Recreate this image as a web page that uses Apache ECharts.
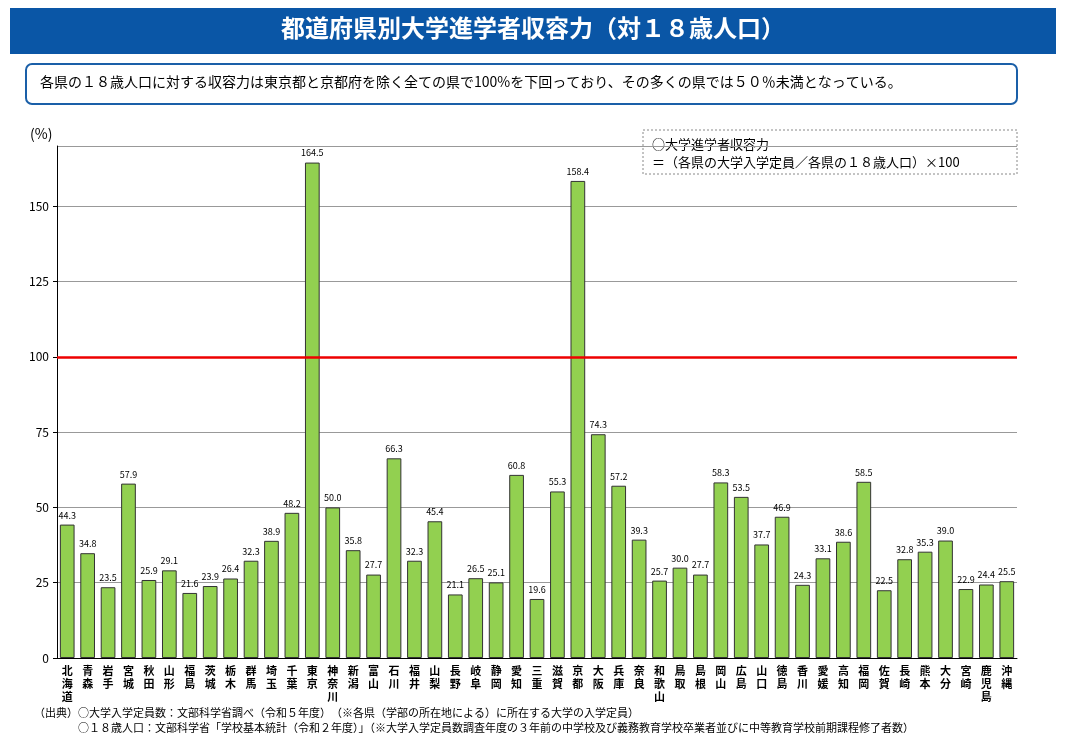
<!DOCTYPE html>
<html lang="ja">
<head>
<meta charset="UTF-8">
<title>都道府県別大学進学者収容力</title>
<script src="https://cdn.jsdelivr.net/npm/echarts@6/dist/echarts.min.js"></script>
<style>
  body { margin: 0; background: #fff; font-family: "Noto Sans CJK JP", sans-serif; }
  #myChart { width: 1066px; height: 737px; }
</style>
</head>
<body>
<div id="myChart"></div>
<script>
var prefectures = ['北海道','青森','岩手','宮城','秋田','山形','福島','茨城','栃木','群馬','埼玉','千葉','東京','神奈川','新潟','富山','石川','福井','山梨','長野','岐阜','静岡','愛知','三重','滋賀','京都','大阪','兵庫','奈良','和歌山','鳥取','島根','岡山','広島','山口','徳島','香川','愛媛','高知','福岡','佐賀','長崎','熊本','大分','宮崎','鹿児島','沖縄'];
var capacity = [44.3,34.8,23.5,57.9,25.9,29.1,21.6,23.9,26.4,32.3,38.9,48.2,164.5,50.0,35.8,27.7,66.3,32.3,45.4,21.1,26.5,25.1,60.8,19.6,55.3,158.4,74.3,57.2,39.3,25.7,30.0,27.7,58.3,53.5,37.7,46.9,24.3,33.1,38.6,58.5,22.5,32.8,35.3,39.0,22.9,24.4,25.5];
var baseline = 100;

var FONT = '"Noto Sans CJK JP", sans-serif';
var myChart = echarts.init(document.getElementById('myChart'));
myChart.setOption({
  animation: false,
  textStyle: { fontFamily: FONT },
  grid: { left: 57, right: 49, top: 146, bottom: 79 },
  graphic: [
    { type: 'rect', shape: { x: 10, y: 8, width: 1046, height: 46 }, style: { fill: '#0a56a6' } },
    { type: 'text', left: 'center', top: 16, style: { text: '都道府県別大学進学者収容力（対１８歳人口）', fill: '#fff', font: 'bold 24px ' + FONT } },
    { type: 'rect', shape: { x: 26, y: 64, width: 991, height: 40, r: 6 }, style: { fill: '#fff', stroke: '#1a5fa8', lineWidth: 2 } },
    { type: 'text', left: 40, top: 75, style: { text: '各県の１８歳人口に対する収容力は東京都と京都府を除く全ての県で100%を下回っており、その多くの県では５０％未満となっている。', fill: '#000', font: '14px ' + FONT } },
    { type: 'text', left: 30, top: 127, style: { text: '(%)', fill: '#000', font: '14px ' + FONT } },
    { type: 'rect', shape: { x: 643, y: 130, width: 374, height: 44 }, style: { fill: '#fff', stroke: '#888', lineWidth: 1, lineDash: [2, 2] } },
    { type: 'text', left: 652, top: 135, style: { text: '○大学進学者収容力\n＝（各県の大学入学定員／各県の１８歳人口）×100', fill: '#000', font: '13px ' + FONT, lineHeight: 18 } },
    { type: 'text', left: 34, top: 705, style: { text: '（出典）○大学入学定員数：文部科学省調べ（令和５年度）　（※各県（学部の所在地による）に所在する大学の入学定員）\n　　　　○１８歳人口：文部科学省「学校基本統計（令和２年度）」（※大学入学定員数調査年度の３年前の中学校及び義務教育学校卒業者並びに中等教育学校前期課程修了者数）', fill: '#000', font: '11px ' + FONT, lineHeight: 15 } }
  ],
  xAxis: {
    type: 'category',
    data: prefectures,
    axisLine: { lineStyle: { color: '#000' } },
    axisTick: { show: false },
    axisLabel: {
      interval: 0, color: '#000', fontSize: 11, fontWeight: 'bold', lineHeight: 13, margin: 6,
      formatter: function (v) { return v.split('').join('\n'); }
    }
  },
  yAxis: {
    type: 'value', min: 0, max: 170, interval: 25,
    axisLine: { show: true, lineStyle: { color: '#000' } },
    axisTick: { show: true, length: 4, lineStyle: { color: '#000' } },
    axisLabel: { color: '#000', fontSize: 12, showMaxLabel: false },
    splitLine: { lineStyle: { color: '#999' } }
  },
  series: [{
    type: 'bar',
    data: capacity,
    barWidth: '72%',
    itemStyle: { color: '#92d050', borderColor: '#333', borderWidth: 1 },
    label: { show: true, position: 'top', fontSize: 9, color: '#000', formatter: function (p) { return p.value.toFixed(1); } },
    markLine: {
      symbol: 'none', silent: true, label: { show: false },
      lineStyle: { color: '#e00', width: 2.5, type: 'solid' },
      data: [{ yAxis: baseline }]
    }
  }]
});
</script>
</body>
</html>
